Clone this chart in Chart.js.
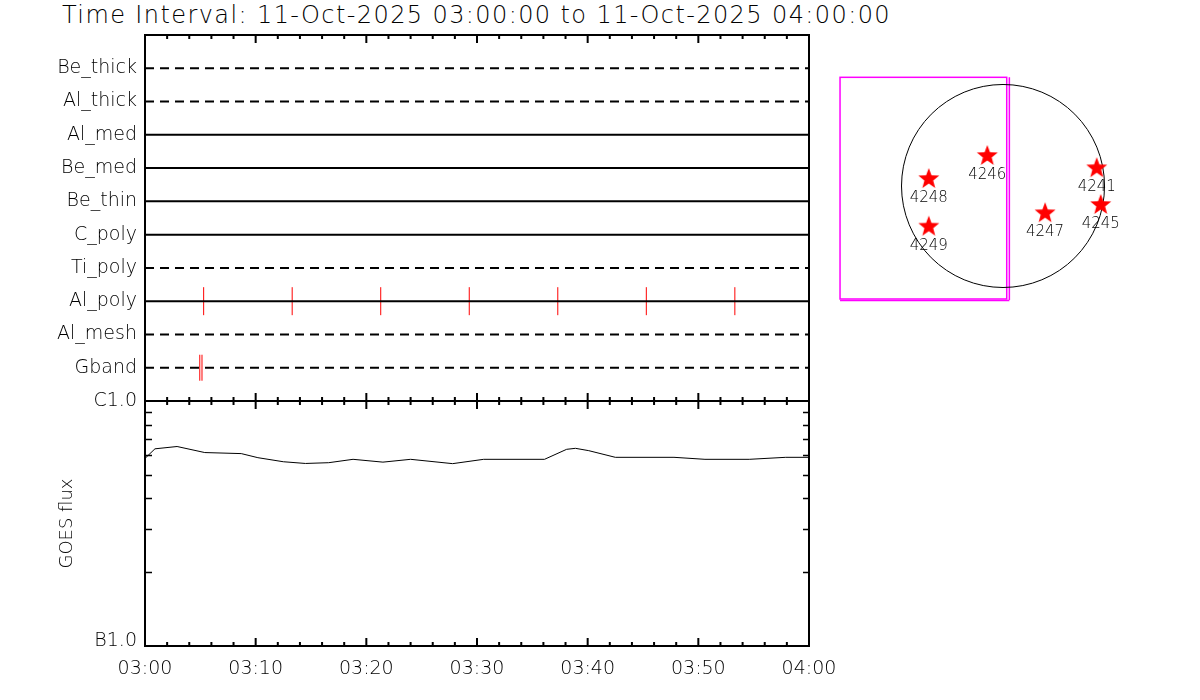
<!DOCTYPE html>
<html>
<head>
<meta charset="utf-8">
<script src="https://cdn.jsdelivr.net/npm/chart.js@4/dist/chart.umd.min.js"></script>
<style>
    body { margin: 0; background: #fff; }
    #wrap { position: relative; width: 1200px; height: 700px; overflow: hidden; background: #fff; }
    canvas { position: absolute; }
    #titulo {
        position: absolute; left: 62px; top: 1px;
        font: 200 24px 'DejaVu Sans', sans-serif; letter-spacing: 1.4px; color: #000;
        white-space: nowrap;
    }
</style>
</head>
<body>
<div id="wrap">
    <div id="titulo">Time Interval: 11-Oct-2025 03:00:00 to 11-Oct-2025 04:00:00</div>
    <canvas id="chart-atten" width="1200" height="410" style="left:0;top:0"></canvas>
    <canvas id="chart-goes" width="1200" height="310" style="left:0;top:390px"></canvas>
    <canvas id="chart-disco" width="300" height="260" style="left:830px;top:60px"></canvas>
</div>
<script>
// filter / attenuator rows (top to bottom)
const ROWS = ['Be_thick', 'Al_thick', 'Al_med', 'Be_med', 'Be_thin', 'C_poly', 'Ti_poly', 'Al_poly', 'Al_mesh', 'Gband'];
const ROW_DASHED = [true, true, false, false, false, false, true, false, true, true];

// red marks, minutes after 03:00
const AL_POLY_MARKS = [5.3, 13.3, 21.3, 29.3, 37.3, 45.3, 53.3];
const GBAND_MARKS = [4.95, 5.15];

// GOES flux, minutes after 03:00
const GOES_MIN = [0, 0.9, 2.9, 5.4, 8.7, 10.2, 12.5, 14.5, 16.6, 18.8, 21.5, 24.0, 27.8, 30.6, 36.1, 38.1, 38.9, 40.1, 42.5, 47.8, 50.6, 54.6, 57.9, 60];
const GOES_FLUX = [5.83e-7, 6.38e-7, 6.52e-7, 6.16e-7, 6.10e-7, 5.87e-7, 5.65e-7, 5.56e-7, 5.60e-7, 5.78e-7, 5.63e-7, 5.78e-7, 5.55e-7, 5.78e-7, 5.78e-7, 6.35e-7, 6.41e-7, 6.27e-7, 5.89e-7, 5.89e-7, 5.78e-7, 5.78e-7, 5.89e-7, 5.89e-7];

const TIME_TICKS = [0, 10, 20, 30, 40, 50, 60];
const TIME_LABELS = ['03:00', '03:10', '03:20', '03:30', '03:40', '03:50', '04:00'];
const FLUX_TICKS = [1e-7, 1e-6];
const FLUX_LABELS = ['B1.0', 'C1.0'];
const FLUX_MINOR = [2e-7, 3e-7, 4e-7, 5e-7, 6e-7, 7e-7, 8e-7, 9e-7];

// active regions on the disk (arcsec)
const AR_NUM = ['4246', '4248', '4249', '4241', '4245', '4247'];
const AR_X = [-149, -703, -703, 887, 925, 398];
const AR_Y = [284, 66, -385, 168, -180, -258];
const SUN_RADIUS = 961;
const FOV_X = [-1543, 35];
const FOV_Y = [-1070, 1029];
const FOV_X2 = 60;

const FONTE = "'DejaVu Sans', sans-serif";
Chart.defaults.font.family = FONTE;
Chart.defaults.color = '#000';

const framePlugin = {
    id: 'frame',
    afterDraw(chart, args, opts) {
        const { ctx, chartArea: a, scales } = chart;
        ctx.save();
        ctx.strokeStyle = '#000';
        ctx.lineWidth = 2;
        ctx.strokeRect(a.left, a.top, a.right - a.left, a.bottom - a.top);
        for (let m = 0; m <= 60; m += 2) {
            const x = scales.x.getPixelForValue(m);
            const len = m % 10 === 0 ? 8 : 4;
            ctx.beginPath();
            ctx.moveTo(x, a.top); ctx.lineTo(x, a.top + len);
            ctx.moveTo(x, a.bottom); ctx.lineTo(x, a.bottom - len);
            ctx.stroke();
        }
        if (opts.minorY) {
            ctx.lineWidth = 1.5;
            FLUX_MINOR.forEach(v => {
                const y = Math.round(scales.y.getPixelForValue(v)) + 0.5;
                ctx.beginPath();
                ctx.moveTo(a.left, y); ctx.lineTo(a.left + 7, y);
                ctx.moveTo(a.right, y); ctx.lineTo(a.right - 6, y);
                ctx.stroke();
            });
        }
        ctx.restore();
    }
};

// fixed axis width, no extra padding from edge labels
function fixWidth(w) {
    return (scale) => {
        scale.width = w;
        scale.paddingTop = 0;
        scale.paddingBottom = 0;
    };
}

function desenharAtenuadores() {
    const rowSets = ROWS.map((r, i) => ({
        type: 'line',
        data: [{ x: 0, y: i + 1 }, { x: 60, y: i + 1 }],
        borderColor: '#000',
        borderWidth: 2,
        borderDash: ROW_DASHED[i] ? [9, 6] : [],
        pointRadius: 0
    }));
    const marca = (lista, row, raio) => ({
        type: 'scatter',
        data: lista.map(m => ({ x: m, y: ROWS.indexOf(row) + 1 })),
        pointStyle: 'line',
        rotation: 90,
        pointRadius: raio,
        borderColor: '#ff0000',
        borderWidth: 1
    });

    new Chart(document.getElementById('chart-atten'), {
        type: 'line',
        data: { datasets: rowSets.concat([marca(AL_POLY_MARKS, 'Al_poly', 14), marca(GBAND_MARKS, 'Gband', 13)]) },
        options: {
            responsive: false,
            animation: false,
            events: [],
            layout: { autoPadding: false, padding: { top: 35, right: 391, bottom: 9, left: 0 } },
            plugins: { legend: { display: false }, tooltip: { enabled: false }, frame: {} },
            scales: {
                x: { type: 'linear', display: false, min: 0, max: 60 },
                y: {
                    type: 'linear', min: 0, max: 11, reverse: true,
                    afterFit: fixWidth(145),
                    afterBuildTicks: s => { s.ticks = ROWS.map((_, i) => ({ value: i + 1 })); },
                    grid: { display: false, drawTicks: false },
                    border: { display: false },
                    ticks: {
                        padding: 8,
                        font: { size: 19, weight: 200 },
                        callback: v => ROWS[v - 1]
                    }
                }
            }
        },
        plugins: [framePlugin]
    });
}

function desenharGoes() {
    new Chart(document.getElementById('chart-goes'), {
        type: 'line',
        data: {
            datasets: [{
                data: GOES_MIN.map((m, i) => ({ x: m, y: GOES_FLUX[i] })),
                borderColor: '#000',
                borderWidth: 1,
                pointRadius: 0,
                tension: 0
            }]
        },
        options: {
            responsive: false,
            animation: false,
            events: [],
            layout: { autoPadding: false, padding: { top: 11, right: 391, bottom: 0, left: 0 } },
            plugins: { legend: { display: false }, tooltip: { enabled: false }, frame: { minorY: true } },
            scales: {
                x: {
                    type: 'linear', min: 0, max: 60,
                    afterFit: s => { s.height = 54; s.paddingLeft = 0; s.paddingRight = 0; },
                    afterBuildTicks: s => { s.ticks = TIME_TICKS.map(v => ({ value: v })); },
                    grid: { display: false, drawTicks: false },
                    border: { display: false },
                    ticks: {
                        padding: 12,
                        maxRotation: 0,
                        font: { size: 19, weight: 200 },
                        callback: v => TIME_LABELS[TIME_TICKS.indexOf(v)]
                    }
                },
                y: {
                    type: 'logarithmic', min: 1e-7, max: 1e-6,
                    afterFit: fixWidth(145),
                    afterBuildTicks: s => { s.ticks = FLUX_TICKS.map(v => ({ value: v })); },
                    grid: { display: false, drawTicks: false },
                    border: { display: false },
                    title: {
                        display: true, text: 'GOES flux',
                        font: { size: 18, weight: 200 },
                        padding: { top: 57, bottom: 0 }
                    },
                    ticks: {
                        padding: 8,
                        font: { size: 19, weight: 200, lineHeight: 0.5 },
                        // bottom label sits just above the axis corner
                        callback: v => v >= 5e-7 ? FLUX_LABELS[1] : [FLUX_LABELS[0], '']
                    }
                }
            }
        },
        plugins: [framePlugin]
    });
}

function criarEstrela(r) {
    const c = document.createElement('canvas');
    c.width = c.height = 2 * r + 2;
    const g = c.getContext('2d');
    g.fillStyle = '#ff0000';
    g.beginPath();
    for (let k = 0; k < 10; k++) {
        const rr = k % 2 === 0 ? r : r * 0.42;
        const ang = -Math.PI / 2 + k * Math.PI / 5;
        const px = r + 1 + rr * Math.cos(ang), py = r + 1 + rr * Math.sin(ang);
        if (k === 0) g.moveTo(px, py); else g.lineTo(px, py);
    }
    g.closePath();
    g.fill();
    return c;
}

const discoPlugin = {
    id: 'disco',
    beforeDatasetsDraw(chart) {
        const { ctx, scales: { x, y } } = chart;
        ctx.save();
        // FOV box
        ctx.strokeStyle = '#ff00ff';
        ctx.lineWidth = 1.5;
        const x0 = x.getPixelForValue(FOV_X[0]), x1 = x.getPixelForValue(FOV_X[1]);
        const y0 = y.getPixelForValue(FOV_Y[1]), y1 = y.getPixelForValue(FOV_Y[0]);
        ctx.strokeRect(x0, y0, x1 - x0, y1 - y0);
        const x2 = x.getPixelForValue(FOV_X2);
        ctx.beginPath();
        ctx.moveTo(x2, y0); ctx.lineTo(x2, y1 + 1);
        ctx.moveTo(x0, y1 + 1.5); ctx.lineTo(x2, y1 + 1.5);
        ctx.stroke();
        // solar limb
        const cx = x.getPixelForValue(0), cy = y.getPixelForValue(0);
        const r = x.getPixelForValue(SUN_RADIUS) - cx;
        ctx.strokeStyle = '#000';
        ctx.lineWidth = 1;
        ctx.beginPath();
        ctx.arc(cx, cy, r, 0, Math.PI * 2);
        ctx.stroke();
        ctx.restore();
    },
    afterDatasetsDraw(chart) {
        const { ctx, scales: { x, y } } = chart;
        ctx.save();
        ctx.fillStyle = '#000';
        ctx.font = '200 15px ' + FONTE;
        ctx.textAlign = 'center';
        ctx.textBaseline = 'middle';
        AR_NUM.forEach((n, i) => {
            ctx.fillText(n, x.getPixelForValue(AR_X[i]), y.getPixelForValue(AR_Y[i]) + 19);
        });
        ctx.restore();
    }
};

function desenharDisco() {
    new Chart(document.getElementById('chart-disco'), {
        type: 'scatter',
        data: {
            datasets: [{
                data: AR_X.map((v, i) => ({ x: v, y: AR_Y[i] })),
                pointStyle: criarEstrela(11),
                pointRadius: 11,
                clip: false
            }]
        },
        options: {
            responsive: false,
            animation: false,
            events: [],
            layout: { autoPadding: false, padding: 0 },
            plugins: { legend: { display: false }, tooltip: { enabled: false } },
            scales: {
                x: { type: 'linear', display: false, min: -1638, max: 1202 },
                y: { type: 'linear', display: false, min: -1269, max: 1193 }
            }
        },
        plugins: [discoPlugin]
    });
}

desenharAtenuadores();
desenharGoes();
desenharDisco();
</script>
</body>
</html>
